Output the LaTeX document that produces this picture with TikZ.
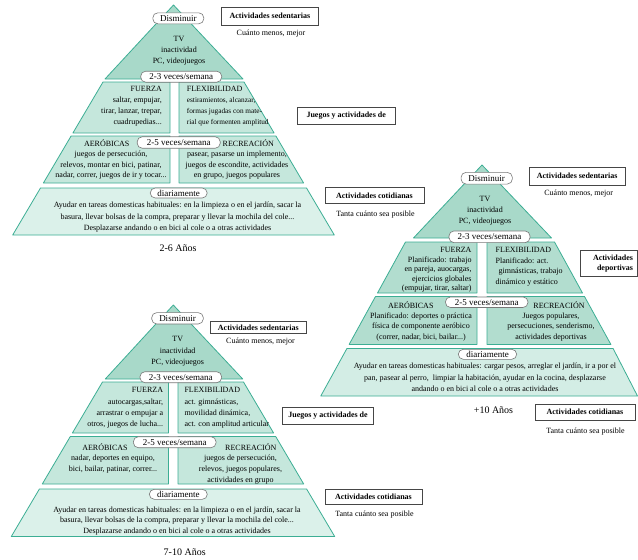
\documentclass[tikz,border=0pt]{standalone}
\usepackage{fontspec}
\setmainfont{Liberation Serif}
\definecolor{edgec}{RGB}{60,174,148}
\definecolor{ctop}{RGB}{168,217,201}
\definecolor{cmid}{RGB}{197,231,220}
\definecolor{clow}{RGB}{219,241,234}
\definecolor{cmidd}{RGB}{178,221,207}
\definecolor{clowd}{RGB}{211,237,229}
\definecolor{pillc}{RGB}{120,120,120}
\definecolor{boxc}{RGB}{70,70,70}
\begin{document}
\begin{tikzpicture}[x=1pt,y=-1pt,
  tri/.style={draw=edgec,fill=ctop,line width=0.8pt,line join=round},
  tiermid/.style={draw=edgec,fill=cmid,line width=0.8pt,line join=round},
  tierlow/.style={draw=edgec,fill=clow,line width=0.8pt,line join=round},
  tiermidd/.style={draw=edgec,fill=cmidd,line width=0.8pt,line join=round},
  tierlowd/.style={draw=edgec,fill=clowd,line width=0.8pt,line join=round},
  pill/.style={draw=pillc,fill=white,rounded corners=5pt,line width=0.6pt,inner sep=0pt,font=\fontsize{9}{10}\selectfont},
  body/.style={inner sep=0pt,font=\fontsize{8}{10.8}\selectfont},
  head/.style={inner sep=0pt,font=\fontsize{8}{10}\selectfont},
  sidebox/.style={draw=boxc,line width=0.9pt,inner sep=0pt,font=\bfseries\fontsize{8}{10}\selectfont},
  note/.style={inner sep=0pt,font=\fontsize{8}{10}\selectfont},
  agelabel/.style={inner sep=0pt,font=\fontsize{10}{12}\selectfont}]
\useasboundingbox (0,0) rectangle (638,560);
\fill[white] (0,0) rectangle (638,560);

% ---------- Pyramid 1 (2-6 Años) ----------
\path[tri] (173.5,5) -- (105,79) -- (243,79) -- cycle;
\path[tiermid] (103,82) -- (170,82) -- (170,133) -- (72.9,133) -- cycle;
\path[tiermid] (179,82) -- (244,82) -- (274.1,133) -- (179,133) -- cycle;
\path[tiermid] (71.1,136) -- (170,136) -- (170,183) -- (43.4,183) -- cycle;
\path[tiermid] (179,136) -- (275.9,136) -- (303.6,183) -- (179,183) -- cycle;
\path[tierlow] (40.5,188) -- (306.5,188) -- (334.3,235) -- (12.7,235) -- cycle;

\node[pill,minimum width=51pt,minimum height=11pt] (aDis) at (178.3,18.3) {Disminuir};
\node[pill,minimum width=81pt,minimum height=11pt] (aW23) at (181.2,76.7) {2-3 veces/semana};
\node[pill,minimum width=83pt,minimum height=11.5pt] (aW25) at (178.7,142.5) {2-5 veces/semana};
\node[pill,minimum width=57pt,minimum height=10pt] (aDia) at (178.7,193) {diariamente};

\node[body,align=center,anchor=north,font=\fontsize{8}{11}\selectfont] (aTV) at (179,36.2) {TV\\inactividad\\PC, videojuegos};
\node[body,align=right,anchor=north east] (aFue) at (162,86.5) {FUERZA\\saltar, empujar,\\tirar, lanzar, trepar,\\cuadrupedias...};
\node[head,anchor=north west] (aFlexH) at (186.7,86.5) {FLEXIBILIDAD};
\node[body,align=left,anchor=north west,font=\fontsize{7.3}{10.8}\selectfont] (aFlex) at (186.7,97.5) {estiramientos, alcanzar,\\formas jugadas con mate-\\rial que formenten amplitud};
\node[head] (aAerH) at (106.7,142.7) {AERÓBICAS};
\node[body,align=center,anchor=north] (aAer) at (111,150.5) {juegos de persecución,\\relevos, montar en bici, patinar,\\nadar, correr, juegos de ir y tocar...};
\node[head] (aRecH) at (248.3,142.7) {RECREACIÓN};
\node[body,align=center,anchor=north] (aRec) at (237,150.5) {pasear, pasarse un implemento,\\juegos de escondite, actividades\\en grupo, juegos populares};
\node[body,align=center,anchor=north,font=\fontsize{8}{11.2}\selectfont] (aDay) at (177.5,202.2) {Ayudar en tareas domesticas habituales: en la limpieza o en el jardín, sacar la\\basura, llevar bolsas de la compra, preparar y llevar la mochila del cole...\\Desplazarse andando o en bici al cole o a otras actividades};
\node[agelabel] (aAge) at (178,248) {2-6 Años};

\node[sidebox,minimum width=96.6pt,minimum height=17.7pt] (aSed) at (270,16.2) {Actividades sedentarias};
\node[note] (aSedN) at (271,33.3) {Cuánto menos, mejor};
\node[sidebox,minimum width=97.5pt,minimum height=17pt] (aJue) at (346.2,115.5) {Juegos y actividades de};
\node[sidebox,minimum width=99pt,minimum height=16pt] (aCot) at (374.5,195.5) {Actividades cotidianas};
\node[note] (aCotN) at (375.5,215) {Tanta cuánto sea posible};

% ---------- Pyramid 2 (7-10 Años) ----------
\path[tri] (173.3,305) -- (105.3,379) -- (242.7,379) -- cycle;
\path[tiermid] (102.5,382) -- (168.5,382) -- (168.5,433) -- (72.4,433) -- cycle;
\path[tiermid] (178,382) -- (243.5,382) -- (273.6,433) -- (178,433) -- cycle;
\path[tiermid] (70.3,436.5) -- (168.5,436.5) -- (168.5,484) -- (42.3,484) -- cycle;
\path[tiermid] (178,436.5) -- (275.7,436.5) -- (303.7,484) -- (178,484) -- cycle;
\path[tierlow] (39.4,489) -- (306.6,489) -- (334.7,536.5) -- (11.3,536.5) -- cycle;

\node[pill,minimum width=51.6pt,minimum height=11.3pt] (bDis) at (177.5,318.3) {Disminuir};
\node[pill,minimum width=81.7pt,minimum height=11pt] (bW23) at (180.8,377.2) {2-3 veces/semana};
\node[pill,minimum width=82.7pt,minimum height=11pt] (bW25) at (174.7,442.2) {2-5 veces/semana};
\node[pill,minimum width=58pt,minimum height=10pt] (bDia) at (178.3,494.3) {diariamente};

\node[body,align=center,anchor=north,font=\fontsize{8}{11.2}\selectfont] (bTV) at (177.7,336.5) {TV\\inactividad\\PC, videojuegos};
\node[body,align=right,anchor=north east,font=\fontsize{8}{11.4}\selectfont] (bFue) at (163.3,387.2) {FUERZA\\autocargas,saltar,\\arrastrar o empujar a\\otros, juegos de lucha...};
\node[body,align=left,anchor=north west,font=\fontsize{8}{11.4}\selectfont] (bFlex) at (184.3,387.2) {FLEXIBILIDAD\\act. gimnásticas,\\movilidad dinámica,\\act. con amplitud articular};
\node[head] (bAerH) at (105,446.7) {AERÓBICAS};
\node[body,align=center,anchor=north] (bAer) at (113,454.9) {nadar, deportes en equipo,\\bici, bailar, patinar, correr...};
\node[head] (bRecH) at (250.8,446.7) {RECREACIÓN};
\node[body,align=center,anchor=north] (bRec) at (240.5,454.9) {juegos de persecución,\\relevos, juegos populares,\\actividades en grupo};
\node[body,align=center,anchor=north,font=\fontsize{8}{10.4}\selectfont] (bDay) at (177,506.5) {Ayudar en tareas domesticas habituales: en la limpieza o en el jardín, sacar la\\basura, llevar bolsas de la compra, preparar y llevar la mochila del cole...\\Desplazarse andando o en bici al cole o a otras actividades};
\node[agelabel] (bAge) at (184.7,551.7) {7-10 Años};

\node[sidebox,minimum width=95.3pt,minimum height=11.7pt] (bSed) at (258.3,327.5) {Actividades sedentarias};
\node[note] (bSedN) at (260.5,341.7) {Cuánto menos, mejor};
\node[sidebox,minimum width=90.6pt,minimum height=17pt] (bJue) at (328,415.5) {Juegos y actividades de};
\node[sidebox,minimum width=97pt,minimum height=14.7pt] (bCot) at (373.5,496.7) {Actividades cotidianas};
\node[note] (bCotN) at (374.5,515) {Tanta cuánto sea posible};

% ---------- Pyramid 3 (+10 Años) ----------
\path[tri] (482,165) -- (413.5,238) -- (551.5,238) -- cycle;
\path[tiermidd] (405.5,242) -- (477,242) -- (477,293) -- (377.5,293) -- cycle;
\path[tiermidd] (487,242) -- (554.5,242) -- (582.5,293) -- (487,293) -- cycle;
\path[tiermidd] (375.5,296.5) -- (477,296.5) -- (477,344.5) -- (349.1,344.5) -- cycle;
\path[tiermidd] (487,296.5) -- (584.5,296.5) -- (610.9,344.5) -- (487,344.5) -- cycle;
\path[tierlowd] (346.9,348.5) -- (613.1,348.5) -- (637.5,396) -- (320.8,396) -- cycle;

\node[pill,minimum width=51.3pt,minimum height=11.7pt] (cDis) at (486.7,178.2) {Disminuir};
\node[pill,minimum width=81pt,minimum height=11.7pt] (cW23) at (489.5,236.8) {2-3 veces/semana};
\node[pill,minimum width=82.6pt,minimum height=10.5pt] (cW25) at (486.7,302.2) {2-5 veces/semana};
\node[pill,minimum width=58.4pt,minimum height=10pt] (cDia) at (487.5,354.3) {diariamente};

\node[body,align=center,anchor=north] (cTV) at (485,196.5) {TV\\inactividad\\PC, videojuegos};
\node[body,align=right,anchor=north east,font=\fontsize{8}{9.5}\selectfont] (cFue) at (471.7,247.2) {FUERZA\\Planificado: trabajo\\en pareja, auocargas,\\ejercicios globales\\(empujar, tirar, saltar)};
\node[body,align=left,anchor=north west,font=\fontsize{8}{10.5}\selectfont] (cFlex) at (495.5,247.2) {FLEXIBILIDAD\\Planificado: act.\\\hspace*{3pt}gimnásticas, trabajo\\dinámico y estático};
\node[head] (cAerH) at (410.8,305) {AERÓBICAS};
\node[body,align=center,anchor=north,font=\fontsize{8}{10.2}\selectfont] (cAer) at (421,312.9) {Planificado: deportes o práctica\\física de componente aeróbico\\(correr, nadar, bici, bailar...)};
\node[head] (cRecH) at (559,305) {RECREACIÓN};
\node[body,align=center,anchor=north,font=\fontsize{8}{10.2}\selectfont] (cRec) at (551,312.9) {Juegos populares,\\persecuciones, senderismo,\\actividades deportivas};
\node[body,align=center,anchor=north,font=\fontsize{8}{11.2}\selectfont] (cDay) at (485,363.2) {Ayudar en tareas domesticas habituales: cargar pesos, arreglar el jardín, ir a por el\\pan, pasear al perro,\ \ limpiar la habitación, ayudar en la cocina, desplazarse\\andando o en bici al cole o a otras actividades};
\node[agelabel] (cAge) at (493.5,410) {+10 Años};

\node[sidebox,minimum width=95.7pt,minimum height=17.7pt] (cSed) at (577.2,176.2) {Actividades sedentarias};
\node[note] (cSedN) at (578.7,193.3) {Cuánto menos, mejor};
\node[sidebox,minimum height=26pt,text width=49pt,align=right,inner xsep=4pt] (cDep) at (608.5,263.7) {Actividades\\deportivas};
\node[sidebox,minimum width=100pt,minimum height=16pt] (cCot) at (585,412) {Actividades cotidianas};
\node[note] (cCotN) at (585.5,431.7) {Tanta cuánto sea posible};
\end{tikzpicture}
\end{document}
